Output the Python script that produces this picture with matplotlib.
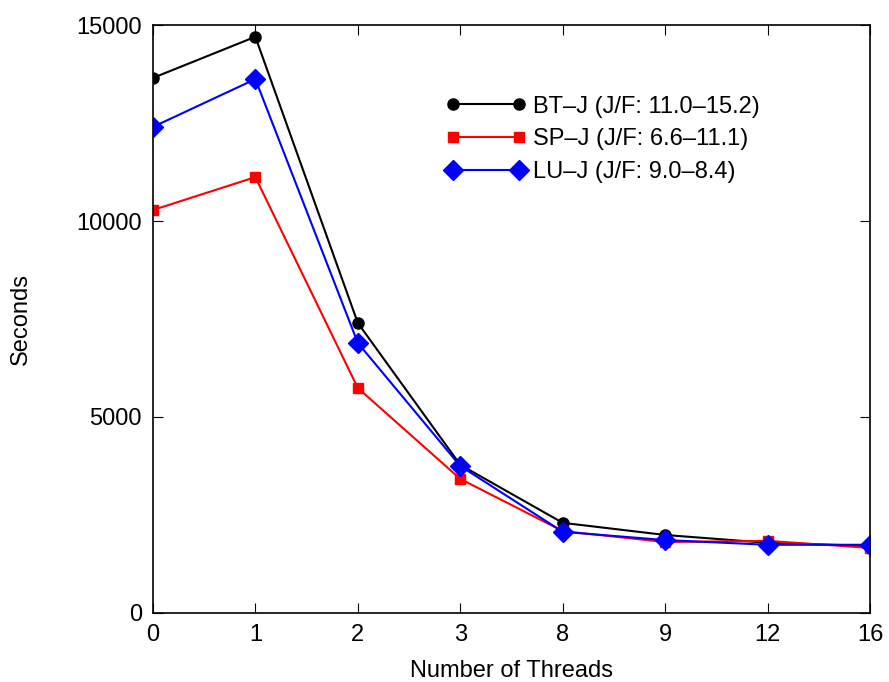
import matplotlib
matplotlib.use("Agg")
import matplotlib.pyplot as plt

plt.rcParams['font.family'] = ['Liberation Sans', 'DejaVu Sans']

threads = ["0", "1", "2", "3", "8", "9", "12", "16"]
bt = [13650, 14700, 7400, 3780, 2300, 1990, 1790, 1710]
sp = [10280, 11120, 5740, 3420, 2090, 1810, 1840, 1660]
lu = [12400, 13620, 6890, 3750, 2070, 1860, 1740, 1740]

fig = plt.figure(figsize=(8.89, 6.82), dpi=100)
ax = fig.add_axes([0.172, 0.1012, 0.8067, 0.8621])
x = list(range(len(threads)))
ax.plot(x, bt, color='black', marker='o', markersize=8, linewidth=1.5,
        label='BT\u2013J (J/F: 11.0\u201315.2)')
ax.plot(x, sp, color='red', marker='s', markersize=7.5, linewidth=1.5,
        label='SP\u2013J (J/F: 6.6\u201311.1)')
ax.plot(x, lu, color='blue', marker='D', markersize=10, linewidth=1.5,
        label='LU\u2013J (J/F: 9.0\u20138.4)')

ax.set_xlim(0, len(threads) - 1)
ax.set_ylim(0, 15000)
ax.set_xticks(x)
ax.set_xticklabels(threads)
ax.set_yticks([0, 5000, 10000, 15000])
ax.tick_params(direction='in', top=True, right=True, length=7, labelsize=17, pad=8)
ax.set_xlabel('Number of Threads', fontsize=17, labelpad=10)
ax.set_ylabel('Seconds', fontsize=17, labelpad=32)
for s in ax.spines.values():
    s.set_linewidth(1.2)
ax.legend(loc='upper left', bbox_to_anchor=(0.408, 0.88), frameon=False, numpoints=2,
          handlelength=3.4, fontsize=17, labelspacing=0.45, handletextpad=0.3,
          borderaxespad=0, borderpad=0)
fig.savefig('out.png', dpi=100)
